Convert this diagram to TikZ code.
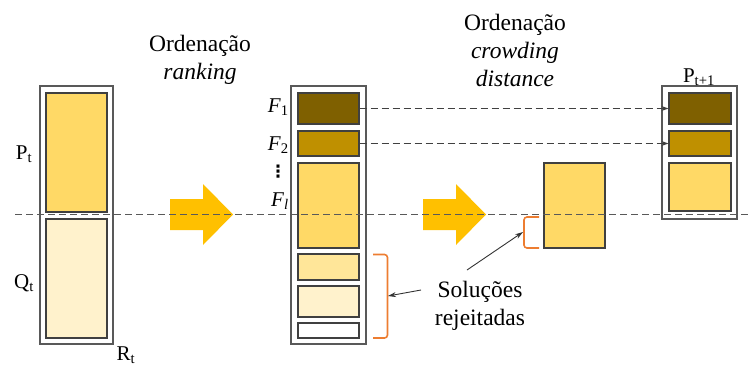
\documentclass[tikz,border=0pt]{standalone}
\usepackage{fontspec}
\setmainfont{Liberation Serif}
\newfontfamily\dotsfont{DejaVu Sans}
\usetikzlibrary{arrows.meta}

\definecolor{fdark}{HTML}{7F6000}
\definecolor{fmid}{HTML}{BF9000}
\definecolor{fgold}{HTML}{FFD966}
\definecolor{flight}{HTML}{FFE699}
\definecolor{fpale}{HTML}{FFF2CC}
\definecolor{arrowyellow}{HTML}{FFC000}
\definecolor{bracketorange}{HTML}{ED7D31}
\definecolor{edgegray}{HTML}{404040}
\definecolor{framegray}{HTML}{595959}

\begin{document}
\begin{tikzpicture}[x=1pt,y=-1pt,
  frame/.style={draw=framegray,line width=1.1pt,fill=white,inner sep=0pt,rectangle},
  cell/.style={draw=edgegray,line width=1.1pt,inner sep=0pt,rectangle},
  lbl/.style={font=\fontsize{21}{24}\selectfont,inner sep=0pt},
  head/.style={font=\fontsize{23.5}{28}\selectfont,align=center,inner sep=0pt},
  guide/.style={draw=framegray,line width=1.1pt,dash pattern=on 7pt off 4pt},
  feed/.style={draw=edgegray,line width=1pt,dash pattern=on 7pt off 4pt,-{Stealth[length=7pt,width=5pt]}},
  bracket/.style={draw=bracketorange,line width=1.6pt,rounded corners=3pt},
  pointer/.style={draw=black!80,line width=0.9pt,-{Stealth[length=8pt,width=5pt]}},
  bigarrow/.style={fill=arrowyellow}
]
\useasboundingbox (0,0) rectangle (748,365);

% ---- R_t = P_t + Q_t
\node[frame,minimum width=73pt,minimum height=258pt] (rt) at (76.5,215) {};
\node[cell,fill=fgold,minimum width=61pt,minimum height=119pt] (pt) at (76.5,152.5) {};
\node[cell,fill=fpale,minimum width=61pt,minimum height=119pt] (qt) at (76.5,278.5) {};
\node[lbl,anchor=base] (ptl) at (24,159) {P\textsubscript{t}};
\node[lbl,anchor=base] (qtl) at (24,288) {Q\textsubscript{t}};
\node[lbl,anchor=base] (rtl) at (126,360) {R\textsubscript{t}};

% ---- fronts after non-dominated sorting
\node[frame,minimum width=75pt,minimum height=258pt] (mid) at (328.5,215) {};
\node[cell,fill=fdark,minimum width=61pt,minimum height=31pt] (f1) at (328.5,108.5) {};
\node[cell,fill=fmid,minimum width=61pt,minimum height=25pt] (f2) at (328.5,143.5) {};
\node[cell,fill=fgold,minimum width=61pt,minimum height=85pt] (fl) at (328.5,205.5) {};
\node[cell,fill=flight,minimum width=61pt,minimum height=26pt] (r1) at (328.5,267) {};
\node[cell,fill=fpale,minimum width=61pt,minimum height=31pt] (r2) at (328.5,301.5) {};
\node[cell,fill=white,minimum width=61pt,minimum height=15pt] (r3) at (328.5,330.5) {};
\node[lbl,anchor=base east] (f1l) at (289,112) {\textit{F}\textsubscript{1}};
\node[lbl,anchor=base east] (f2l) at (289,150) {\textit{F}\textsubscript{2}};
\node[inner sep=0pt,font=\dotsfont\bfseries\fontsize{17}{18}\selectfont] (dots) at (278,172) {⋮};
\node[lbl,anchor=base east] (fll) at (289,206) {\textit{F}\textsubscript{\textit{l}}};

% ---- last front sorted by crowding distance
\node[cell,fill=fgold,minimum width=61pt,minimum height=85pt] (cd) at (574.5,205.5) {};

% ---- P_{t+1}
\node[frame,minimum width=75pt,minimum height=133pt] (pn) at (699.5,152.5) {};
\node[cell,fill=fdark,minimum width=62pt,minimum height=31pt] (p1) at (700,108.5) {};
\node[cell,fill=fmid,minimum width=62pt,minimum height=25pt] (p2) at (700,143.5) {};
\node[cell,fill=fgold,minimum width=62pt,minimum height=48pt] (p3) at (700,187) {};
\node[lbl,anchor=base] (pnl) at (699,82) {P\textsubscript{t+1}};

% ---- headings
\node[head] (h1) at (200,60) {Ordenação\\\textit{ranking}};
\node[head] (h2) at (515,50) {Ordenação\\\textit{crowding}\\\textit{distance}};
\node[head] (rej) at (480,306) {Soluções\\rejeitadas};

% ---- wide yellow arrows
\fill[bigarrow] (170,199) -- (203,199) -- (203,184) -- (233,214.5) -- (203,245)
  -- (203,230) -- (170,230) -- cycle;
\fill[bigarrow] (423,199) -- (456,199) -- (456,184) -- (486,214.5) -- (456,245)
  -- (456,230) -- (423,230) -- cycle;

% ---- fronts copied into P_{t+1}
\draw[feed] (f1.east) -- (p1.west);
\draw[feed] (f2.east) -- (p2.west);

% ---- brackets for rejected solutions
\coordinate (b1top) at (373,254.5);
\coordinate (b1bot) at (373,338);
\coordinate (b1mid) at (388,296);
\draw[bracket] (b1top) -- (387.5,254.5) -- (387.5,338) -- (b1bot);
\coordinate (b2top) at (539,217);
\coordinate (b2bot) at (539,248);
\coordinate (b2mid) at (523,232);
\draw[bracket] (b2top) -- (524,217) -- (524,248) -- (b2bot);

\coordinate (s1) at (421,290);
\coordinate (s2) at (467,270);
\draw[pointer] (s1) -- (b1mid);
\draw[pointer] (s2) -- (b2mid);

% ---- cut line between surviving and rejected
\coordinate (cutl) at (15,214.5);
\coordinate (cutr) at (748,214.5);
\draw[guide] (cutl) -- (cutr);
\end{tikzpicture}
\end{document}
